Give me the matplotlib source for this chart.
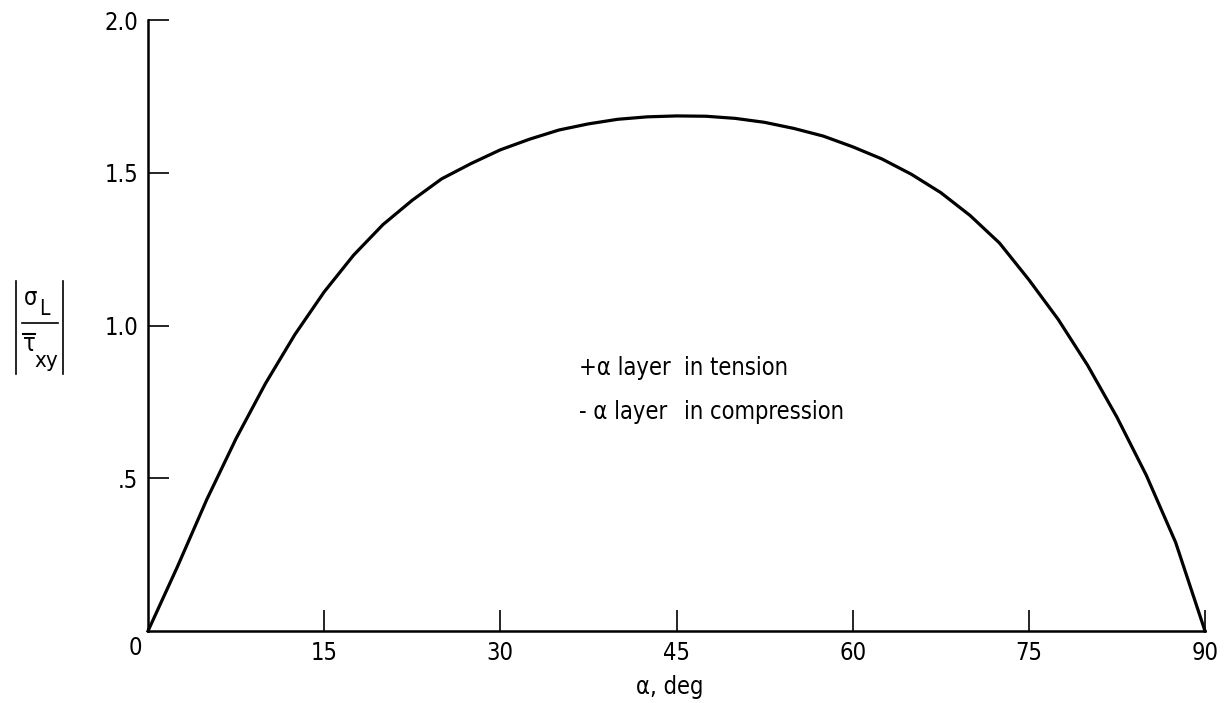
import matplotlib
matplotlib.use('Agg')
import matplotlib.pyplot as plt
from matplotlib.lines import Line2D

# ---------- data ----------
alpha_deg = [0, 2.5, 5, 7.5, 10, 12.5, 15, 17.5, 20, 22.5, 25, 27.5, 30, 32.5, 35, 37.5,
             40, 42.5, 45, 47.5, 50, 52.5, 55, 57.5, 60, 62.5, 65, 67.5, 70, 72.5,
             75, 77.5, 80, 82.5, 85, 87.5, 90]
stress_ratio = [0, 0.21, 0.43, 0.63, 0.81, 0.97, 1.11, 1.23, 1.33, 1.41, 1.48, 1.53, 1.575,
                1.61, 1.64, 1.66, 1.675, 1.683, 1.686, 1.685, 1.678, 1.665, 1.645, 1.62,
                1.585, 1.545, 1.495, 1.435, 1.36, 1.27, 1.15, 1.02, 0.87, 0.70, 0.51, 0.29, 0]

x_ticks = [15, 30, 45, 60, 75, 90]
y_ticks = [0.5, 1.0, 1.5, 2.0]
y_ticklabels = ['.5', '1.0', '1.5', '2.0']

# condensed face gets close to the narrow typewriter-ish lettering of the original
plt.rcParams['font.family'] = ['DejaVu Sans']
plt.rcParams['font.stretch'] = 'condensed'
FS = 17

W, H = 1226, 703
fig = plt.figure(figsize=(W / 100, H / 100), dpi=100)
ax = fig.add_axes([148 / W, (H - 631) / H, (1205 - 148) / W, (631 - 20) / H])

ax.plot(alpha_deg, stress_ratio, color='black', lw=2.3, solid_joinstyle='round', clip_on=False)

ax.set_xlim(0, 90)
ax.set_ylim(0, 2.0)
for s in ('top', 'right'):
    ax.spines[s].set_visible(False)
for s in ('left', 'bottom'):
    ax.spines[s].set_linewidth(1.8)

ax.set_xticks(x_ticks)
ax.set_xticklabels([str(v) for v in x_ticks], fontsize=FS)
ax.set_yticks(y_ticks)
ax.set_yticklabels(y_ticklabels, fontsize=FS)
ax.tick_params(axis='both', direction='in', length=15, width=1.2, pad=7)

# "0" at the origin, shifted left like the reference
fig.text(135 / W, 1 - 648 / H, '0', fontsize=FS, ha='center', va='center')

# x label
fig.text(670 / W, 1 - 687 / H, 'α, deg', fontsize=FS, ha='center', va='center')

# y label |sigma_L / tau_xy| built from pieces
def fx(px):
    return px / W

def fy(py):
    return 1 - py / H

fig.text(fx(31), fy(298), 'σ', fontsize=FS, ha='center', va='center')
fig.text(fx(44), fy(309), 'L', fontsize=FS - 2, ha='center', va='center')
fig.text(fx(29), fy(344), 'τ', fontsize=FS, ha='center', va='center')
fig.text(fx(46), fy(361), 'xy', fontsize=FS - 1, ha='center', va='center')
fig.add_artist(Line2D([fx(22), fx(58)], [fy(323), fy(323)], color='black', lw=1.2))
fig.add_artist(Line2D([fx(23), fx(35)], [fy(334), fy(334)], color='black', lw=1.5))
fig.add_artist(Line2D([fx(16), fx(16)], [fy(281), fy(374)], color='black', lw=1.2))
fig.add_artist(Line2D([fx(63), fx(63)], [fy(281), fy(374)], color='black', lw=1.2))

# annotation
ax.text(36.7, 0.86, '+α layer', fontsize=FS, ha='left', va='center')
ax.text(45.6, 0.86, 'in tension', fontsize=FS, ha='left', va='center')
ax.text(36.7, 0.717, '- α layer', fontsize=FS, ha='left', va='center')
ax.text(45.6, 0.717, 'in compression', fontsize=FS, ha='left', va='center')

fig.savefig('out.png', dpi=100)
